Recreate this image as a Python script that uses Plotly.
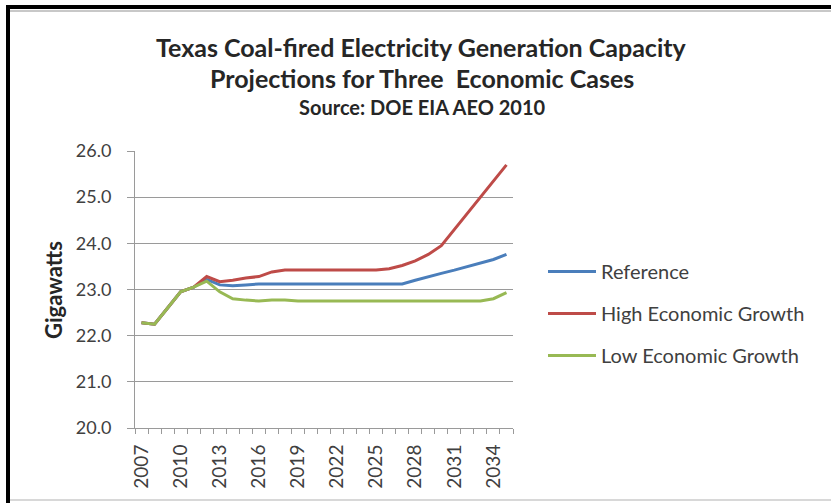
import plotly.graph_objects as go

years = list(range(2007, 2036))
reference = [22.28, 22.25, 22.6, 22.95, 23.05, 23.22, 23.1, 23.08, 23.1,
             23.12, 23.12, 23.12, 23.12, 23.12, 23.12, 23.12, 23.12, 23.12, 23.12, 23.12, 23.12,
             23.2, 23.28, 23.35, 23.42, 23.5, 23.57, 23.65, 23.76]
high_growth = [22.28, 22.25, 22.6, 22.95, 23.05, 23.28,
               23.17, 23.2, 23.25, 23.28, 23.38,
               23.42, 23.42, 23.42, 23.42, 23.42, 23.42, 23.42, 23.42,
               23.45, 23.52, 23.62, 23.76, 23.95, 24.3, 24.65, 25.0, 25.35, 25.7]
low_growth = [22.28, 22.25, 22.6, 22.95, 23.05, 23.18,
              22.95, 22.8, 22.77, 22.75, 22.77, 22.77, 22.75, 22.75, 22.75, 22.75,
              22.75, 22.75, 22.75, 22.75, 22.75, 22.75, 22.75, 22.75, 22.75, 22.75,
              22.75, 22.8, 22.93]
series_names = ["Reference", "High Economic Growth", "Low Economic Growth"]
series_colors = ["#4A7EBB", "#BE4B48", "#98B954"]
x_tick_years = list(range(2007, 2035, 3))
y_ticks = [20, 21, 22, 23, 24, 25, 26]

FONT = "Lato"
TXT = "#404040"

fig = go.Figure()
for i, (name, vals, col) in enumerate(zip(series_names, [reference, high_growth, low_growth], series_colors)):
    fig.add_trace(go.Scatter(x=years, y=vals, name=name, mode="lines",
                             line=dict(color=col, width=3), legendgroup=f"g{i}"))

L, R, T, B = 135, 318, 151, 75
W, H = 831, 503
pw, ph = W - L - R, H - T - B

def px(x):
    return (x - L) / pw

def py(y):
    return (H - B - y) / ph

fig.update_layout(
    width=W, height=H,
    margin=dict(l=L, r=R, t=T, b=B),
    paper_bgcolor="white", plot_bgcolor="white",
    font=dict(family=FONT, color=TXT),
    showlegend=True,
    legend=dict(x=px(543), y=py(252), xanchor="left", yanchor="top",
                font=dict(size=20, family=FONT, color=TXT),
                itemwidth=48, tracegroupgap=13, bgcolor="rgba(0,0,0,0)"),
    xaxis=dict(range=[2006.5, 2035.5], tickmode="array", tickvals=x_tick_years,
               ticktext=[str(y) for y in x_tick_years], tickangle=-90,
               tickfont=dict(size=19, family=FONT, color=TXT),
               ticks="", ticklabelstandoff=8, showgrid=False, zeroline=False,
               showline=True, linecolor="#9a9a9a", linewidth=1,
               minor=dict(ticks="outside", tick0=2006.5, dtick=1, ticklen=5,
                          tickcolor="#9a9a9a", showgrid=False)),
    yaxis=dict(range=[20, 26], tickmode="array", tickvals=y_ticks,
               ticktext=[f"{v:.1f}" for v in y_ticks],
               tickfont=dict(size=18, family=FONT, color=TXT),
               ticks="outside", ticklen=7, tickcolor="#9a9a9a",
               ticklabelstandoff=12,
               showgrid=True, gridcolor="#9a9a9a", gridwidth=1, zeroline=False,
               showline=True, linecolor="#9a9a9a", linewidth=1),
)

def note(text, x, y, size, angle=0):
    fig.add_annotation(text=text, x=px(x), y=py(y), xref="paper", yref="paper",
                       xanchor="center", yanchor="middle", showarrow=False, textangle=angle,
                       font=dict(size=size, family=FONT, color="#262626"))

note("<b>Texas Coal-fired Electricity Generation Capacity</b>", 421, 47, 25)
note("<b>Projections for Three  Economic Cases</b>", 422, 78, 25)
note("<b>Source: DOE EIA AEO 2010</b>", 422, 107, 20)
note("<b>Gigawatts</b>", 53, 290, 22, angle=-90)

# frame
fig.add_shape(type="rect", xref="paper", yref="paper", x0=px(6), x1=px(831), y0=py(9), y1=py(5),
              fillcolor="black", line=dict(width=0), layer="above")
fig.add_shape(type="rect", xref="paper", yref="paper", x0=px(6), x1=px(10), y0=py(503), y1=py(5),
              fillcolor="black", line=dict(width=0), layer="above")
fig.add_shape(type="line", xref="paper", yref="paper", x0=px(10), x1=px(831), y0=py(11), y1=py(11),
              line=dict(color="#c8c8c8", width=2))
fig.add_shape(type="line", xref="paper", yref="paper", x0=px(10), x1=px(831), y0=py(500), y1=py(500),
              line=dict(color="#d8d8d8", width=2))

fig.write_html("out.html")
